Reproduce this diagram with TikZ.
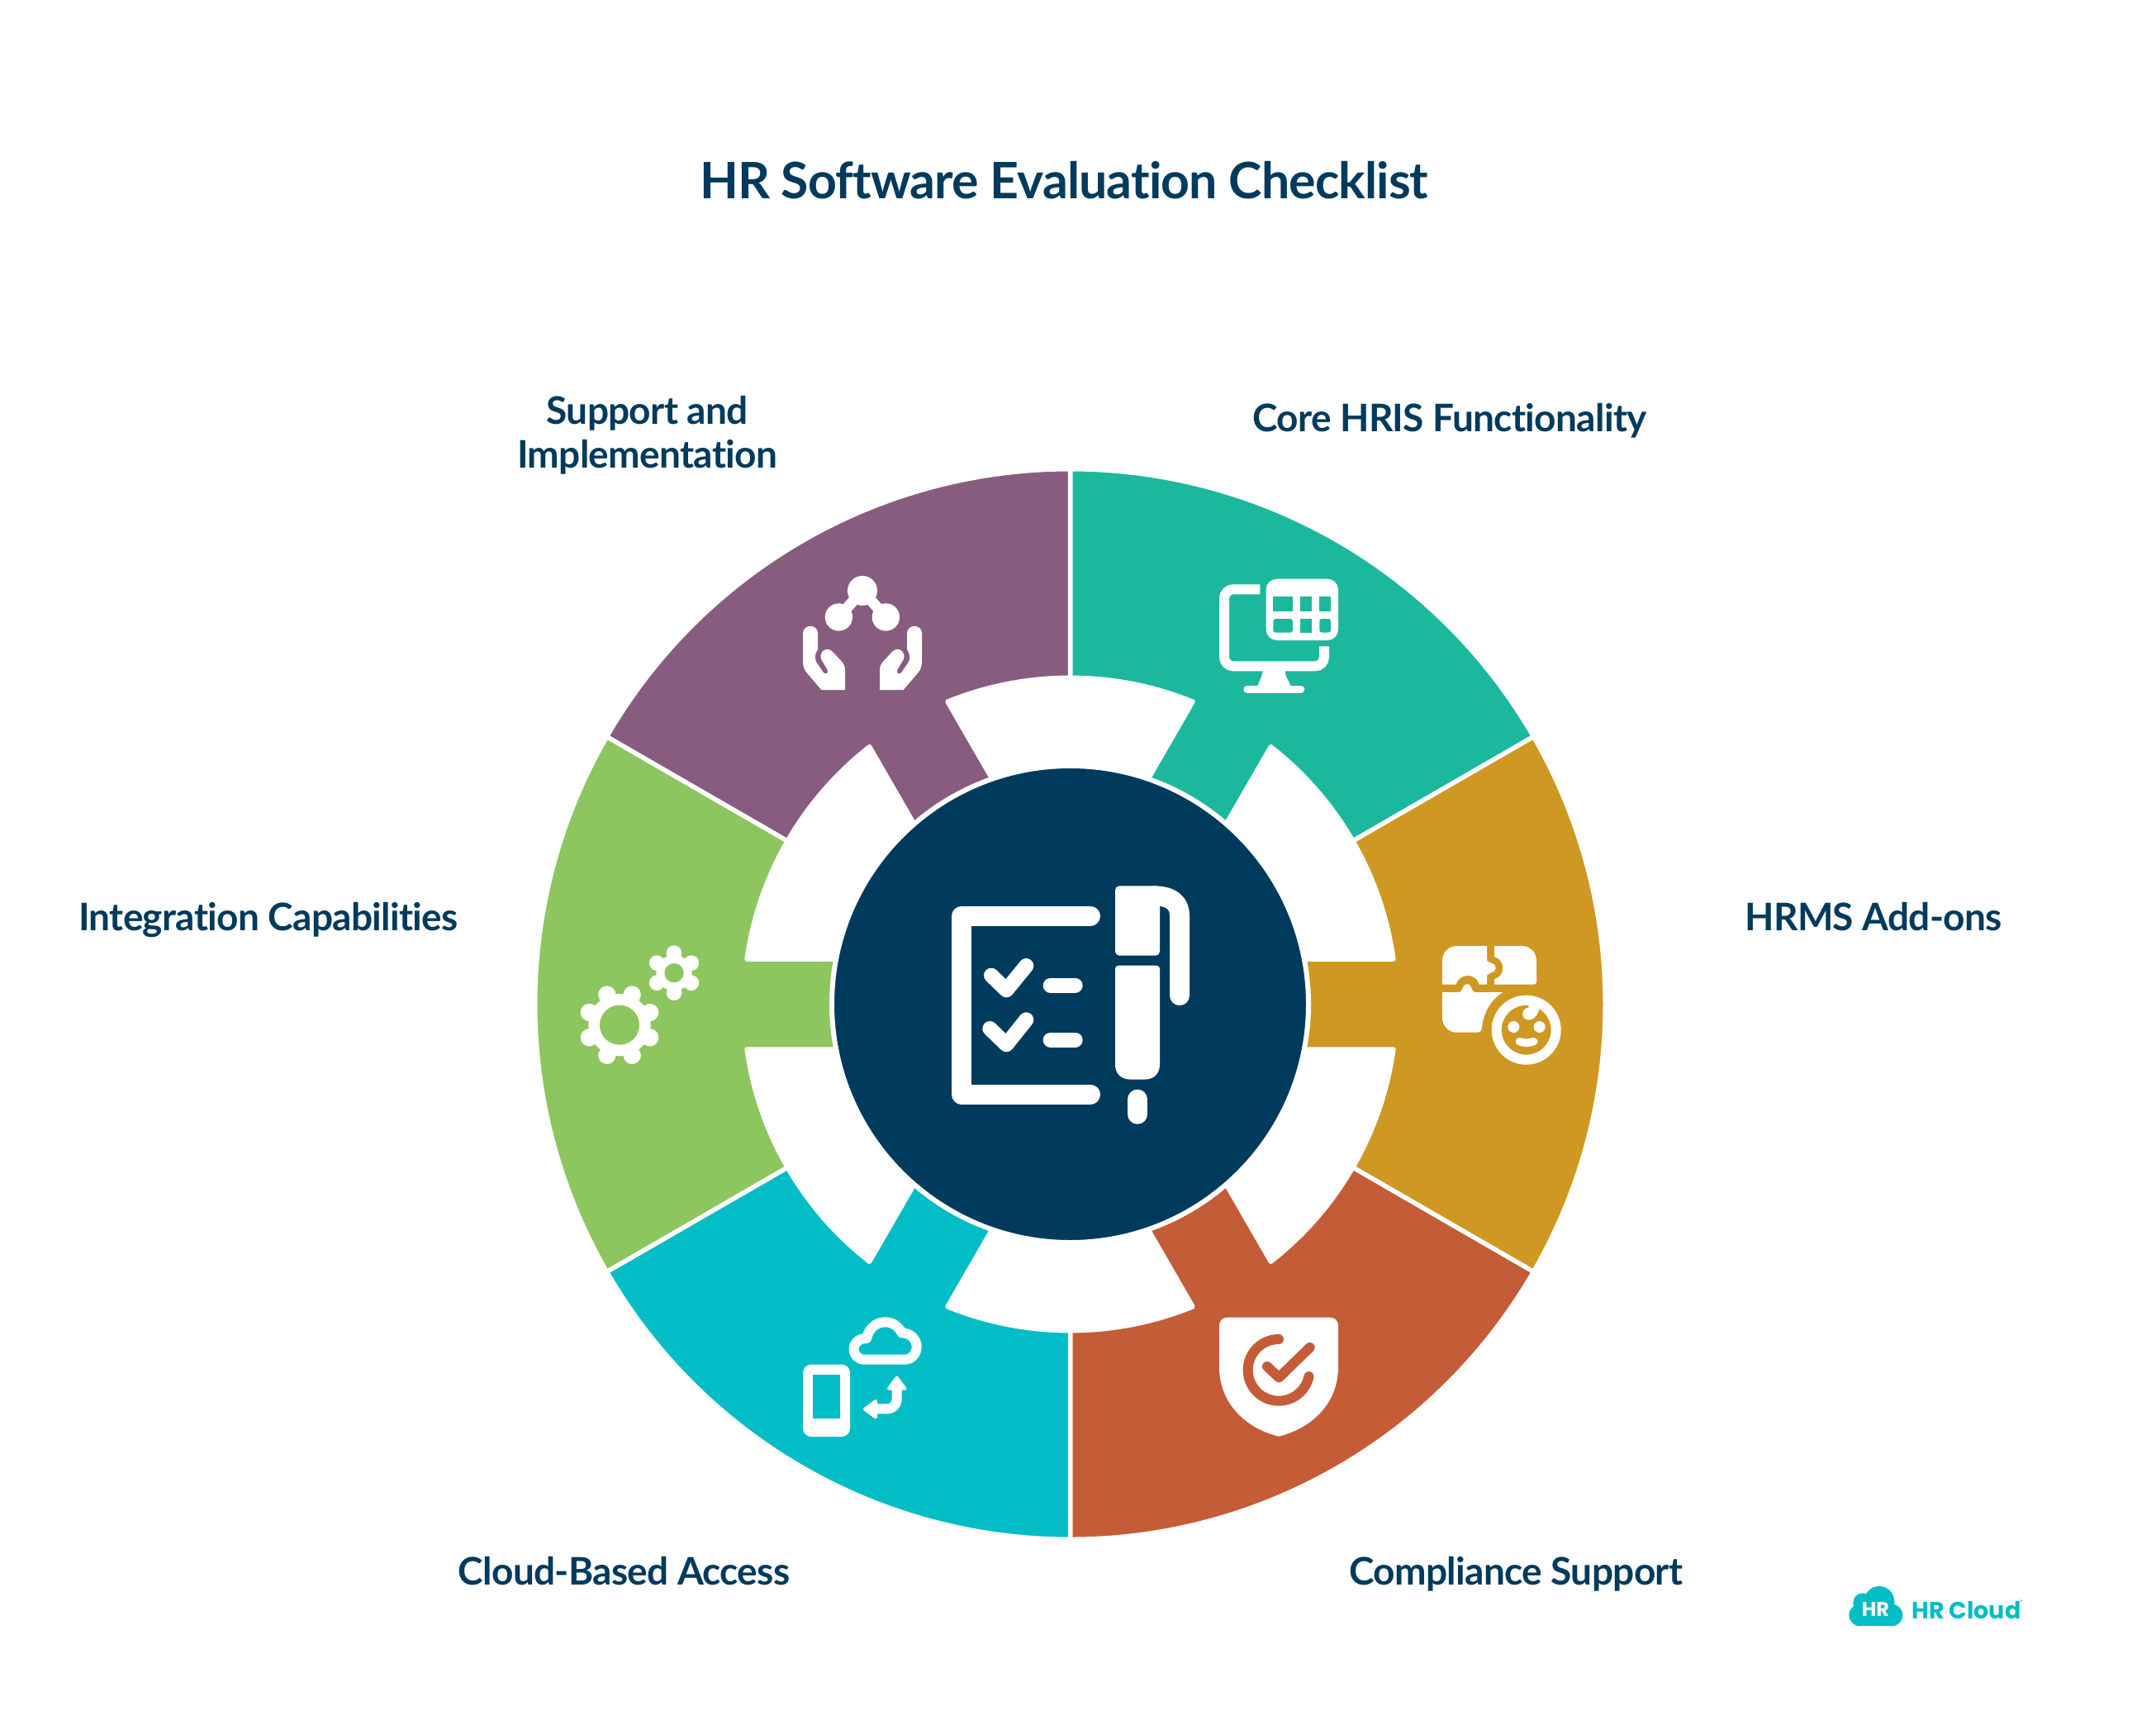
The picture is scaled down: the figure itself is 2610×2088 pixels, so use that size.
\documentclass[tikz,border=0pt]{standalone}
\usepackage{fontspec}
\setmainfont{Lato}[Ligatures=NoCommon,LetterSpace=-1.5]
\newfontfamily\logofont{Poppins}
\definecolor{navy}{HTML}{003A5D}
\definecolor{tealc}{HTML}{1CB89D}
\definecolor{goldc}{HTML}{CE9822}
\definecolor{rustc}{HTML}{C45C37}
\definecolor{cyanc}{HTML}{02BDC5}
\definecolor{greenc}{HTML}{8DC55F}
\definecolor{purplec}{HTML}{885C7E}
\tikzset{
  zoomed/.style 2 args={shift={(#1pt,-#2pt)},x=0.33333pt,y=-0.33333pt},
  label/.style={text=navy,font=\fontsize{46}{53}\selectfont\bfseries,align=center,inner sep=0pt},
  wedge/.style={draw=white,line width=5.5pt,line join=round,fill=#1},
  inkline/.style={draw=white,line cap=round,line join=round,line width=#1},
}
\newcommand{\handshape}{%
  \fill[white] (66,260) .. controls (66,225) and (120,225) .. (120,260) -- (120,318) .. controls (108,335) and (108,350) .. (115,365) -- (141,403) .. controls (150,410) and (160,405) .. (155,392) -- (133,355) .. controls (122,330) and (150,305) .. (172,325) -- (205,360) .. controls (215,372) and (219,380) .. (219,395) -- (219,465) -- (133,465) -- (80,403) .. controls (70,390) and (66,380) .. (66,360) -- cycle;}
\begin{document}
\begin{tikzpicture}[x=1pt,y=1pt]
\useasboundingbox (0,0) rectangle (2610,-2088);
\fill[white] (0,0) rectangle (2610,-2088);

% wheel
\begin{scope}[shift={(1295.5pt,-1215.5pt)}]
  \foreach \ang/\col in {60/tealc,0/goldc,-60/rustc,-120/cyanc,180/greenc,120/purplec}{
    \begin{scope}[rotate=\ang]
      \path[wedge=\col] (30:647.75) arc[start angle=30,end angle=-30,radius=647.75]
        -- (-30:395.2) arc[start angle=-30,end angle=-7.93,radius=395.2]
        -- (391.4,-54.5) -- (270,-54.5) -- (270,54.5) -- (391.4,54.5)
        arc[start angle=7.93,end angle=30,radius=395.2] -- cycle;
    \end{scope}
  }
  \node[circle,fill=navy,draw=white,line width=6pt,minimum size=577pt,inner sep=0pt] (hub) at (0,0) {};
\end{scope}

% centre icon
\begin{scope}[zoomed={1050}{1000}]
  \draw[inkline=24pt] (810,326) -- (342,326) -- (342,974) -- (810,974);
  \draw[inkline=18pt] (450,542) -- (505,595) -- (577,507);
  \draw[inkline=18pt] (445,735) -- (505,793) -- (577,703);
  \draw[inkline=18pt] (665,578) -- (755,578);
  \draw[inkline=18pt] (665,776) -- (755,776);
  \fill[white,rounded corners=5pt] (900,217) rectangle (1062,470);
  \draw[inkline=24pt] (1134,615) -- (1134,325) .. controls (1134,280) and (1105,253) .. (1040,253);
  \fill[white] (900,521) .. controls (900,511) and (905,506) .. (915,506) -- (1047,506) .. controls (1057,506) and (1062,511) .. (1062,521) -- (1062,865) .. controls (1062,900) and (1040,920) .. (1005,920) -- (957,920) .. controls (922,920) and (900,900) .. (900,865) -- cycle;
  \draw[inkline=24pt] (981,992) -- (981,1046);
\end{scope}

% computer icon
\begin{scope}[zoomed={1400}{650}]
  \draw[white,line width=12pt,rounded corners=11pt] (376,190) -- (246,190) -- (246,469) -- (609,469) -- (609,397);
  \fill[white] (388,480) -- (466,480) -- (470,505) -- (490,545) -- (365,545) -- (382,505) -- cycle;
  \draw[inkline=8.7pt] (329,553) -- (525,553);
  \fill[white,rounded corners=13pt] (398,152) rectangle (660,375);
  \fill[tealc] (424,216) rectangle (495,269);
  \fill[tealc] (522,216) rectangle (565,269);
  \fill[tealc] (592,216) rectangle (633,269);
  \fill[tealc,rounded corners=3pt] (424,297) rectangle (495,347);
  \fill[tealc] (522,297) rectangle (565,347);
  \fill[tealc,rounded corners=3pt] (592,297) rectangle (633,347);
\end{scope}

% puzzle icon
\begin{scope}[zoomed={1720}{1100}]
  \fill[white] (78,275) -- (78,190) .. controls (78,158) and (100,135) .. (133,135) -- (240,135) -- (240,188) .. controls (250,200) and (272,195) .. (272,215) .. controls (272,235) and (250,228) .. (240,242) -- (240,275) -- (212,275) .. controls (200,232) and (140,232) .. (128,275) -- cycle;
  \fill[white] (267,135) -- (365,135) .. controls (398,135) and (420,158) .. (420,190) -- (420,268) -- (413,275) -- (267,275) -- (267,255) .. controls (285,252) and (298,235) .. (298,215) .. controls (298,195) and (285,178) .. (267,175) -- cycle;
  \fill[white] (78,303) -- (140,303) .. controls (152,303) and (150,273) .. (168,273) .. controls (186,273) and (184,303) .. (196,303) -- (298,303) .. controls (255,330) and (228,375) .. (222,430) .. controls (221,443) and (215,449) .. (205,449) -- (130,449) .. controls (100,449) and (78,425) .. (78,395) -- cycle;
  \draw[white,line width=12pt] (383,440) circle[radius=108];
  \fill[white] (392,345) -- (392,358) .. controls (365,362) and (362,395) .. (385,403) .. controls (408,408) and (428,385) .. (430,360) -- (415,340) -- cycle;
  \fill[white] (337,429) circle[radius=21];
  \fill[white] (431,429) circle[radius=21];
  \draw[inkline=9.5pt] (358,482) .. controls (375,488) and (393,488) .. (410,482);
\end{scope}

% shield icon
\begin{scope}[zoomed={1440}{1560}]
  \fill[white] (108,134) .. controls (108,116) and (120,104) .. (138,104) -- (510,104) .. controls (528,104) and (540,116) .. (540,134) -- (540,285) .. controls (540,410) and (450,505) .. (324,536) .. controls (198,505) and (108,410) .. (108,285) -- cycle;
  \draw[rustc,line width=12pt,line cap=round] (324,183) arc[start angle=-90,end angle=-348,radius=112];
  \draw[rustc,line width=12pt,line cap=round,line join=round] (282,282) -- (325,322) -- (437,213);
\end{scope}

% cloud and phone icon
\begin{scope}[zoomed={950}{1570}]
  \fill[white,rounded corners=10pt] (66,245) rectangle (237,507);
  \fill[cyanc] (102,282) rectangle (201,442);
  \draw[white,line width=12pt,line join=round] (290,227) .. controls (265,227) and (251,210) .. (251,188) .. controls (251,165) and (270,150) .. (297,150) .. controls (305,115) and (330,91) .. (365,91) .. controls (395,91) and (415,110) .. (425,130) .. controls (458,130) and (479,155) .. (479,180) .. controls (479,207) and (460,227) .. (435,227) -- cycle;
  \draw[white,line width=12pt] (407,335) -- (407,368) .. controls (407,392) and (392,406) .. (370,406) -- (335,406);
  \fill[white,draw=white,line width=4pt,line join=round] (407,293) -- (436,332) -- (378,332) -- cycle;
  \fill[white,draw=white,line width=4pt,line join=round] (291,407) -- (330,378) -- (330,436) -- cycle;
\end{scope}

% gears icon
\begin{scope}[zoomed={680}{1120}]
  \fill[white] (210,362) circle[radius=113];
  \foreach \a in {22.5,67.5,...,337.5}{\fill[white] (210,362) ++(\a:119) circle[radius=32];}
  \fill[greenc] (210,362) circle[radius=72];
  \fill[white] (408,173) circle[radius=65];
  \foreach \a in {30,90,...,330}{\fill[white] (408,173) ++(\a:72) circle[radius=28];}
  \fill[greenc] (408,173) circle[radius=35];
\end{scope}

% hands and molecule icon
\begin{scope}[zoomed={950}{680}]
  \fill[white] (282,105) circle[radius=54];
  \fill[white] (196,201) circle[radius=50];
  \fill[white] (367,201) circle[radius=50];
  \draw[white,line width=13pt] (196,201) -- (282,105) -- (367,201);
  \handshape
  \begin{scope}[shift={(564,0)},xscale=-1]
    \handshape
  \end{scope}
\end{scope}

% logo
\begin{scope}[zoomed={2220}{1900}]
  \fill[cyanc] (165,115) circle[radius=55];
  \fill[cyanc] (105,120) circle[radius=35];
  \fill[cyanc] (95,165) circle[radius=40];
  \fill[cyanc] (210,165) circle[radius=40];
  \fill[cyanc] (95,130) rectangle (210,205);
\end{scope}
\node[text=white,font=\logofont\fontsize{24}{24}\selectfont\bfseries,inner sep=0pt] (logohr) at (2270.5,-1948) {HR};
\node[text=cyanc,font=\logofont\fontsize{28.5}{28.5}\selectfont\bfseries,inner sep=0pt,anchor=west] (logotext) at (2314,-1949) {HR Cloud};
\node[text=cyanc,font=\logofont\fontsize{7}{7}\selectfont,inner sep=0pt] (logoreg) at (2447,-1939) {®};

% labels
\node[text=navy,font=\fontsize{60.8}{62}\selectfont\bfseries,inner sep=0pt,anchor=base] (title) at (1288,-240.7) {HR Software Evaluation Checklist};
\node[label,anchor=base] (core) at (1755,-522) {Core HRIS Functionality};
\node[label,anchor=base] (hrms) at (2268,-1126) {HRMS Add-ons};
\node[label,anchor=base] (comp) at (1835.4,-1918) {Compliance Support};
\node[label,anchor=base] (cloud) at (755.5,-1918) {Cloud-Based Access};
\node[label,anchor=base] (integ) at (325,-1126) {Integration Capabilities};
\node[label] (supp) at (783.7,-526.5) {Support and\\Implementation};
\end{tikzpicture}
\end{document}
